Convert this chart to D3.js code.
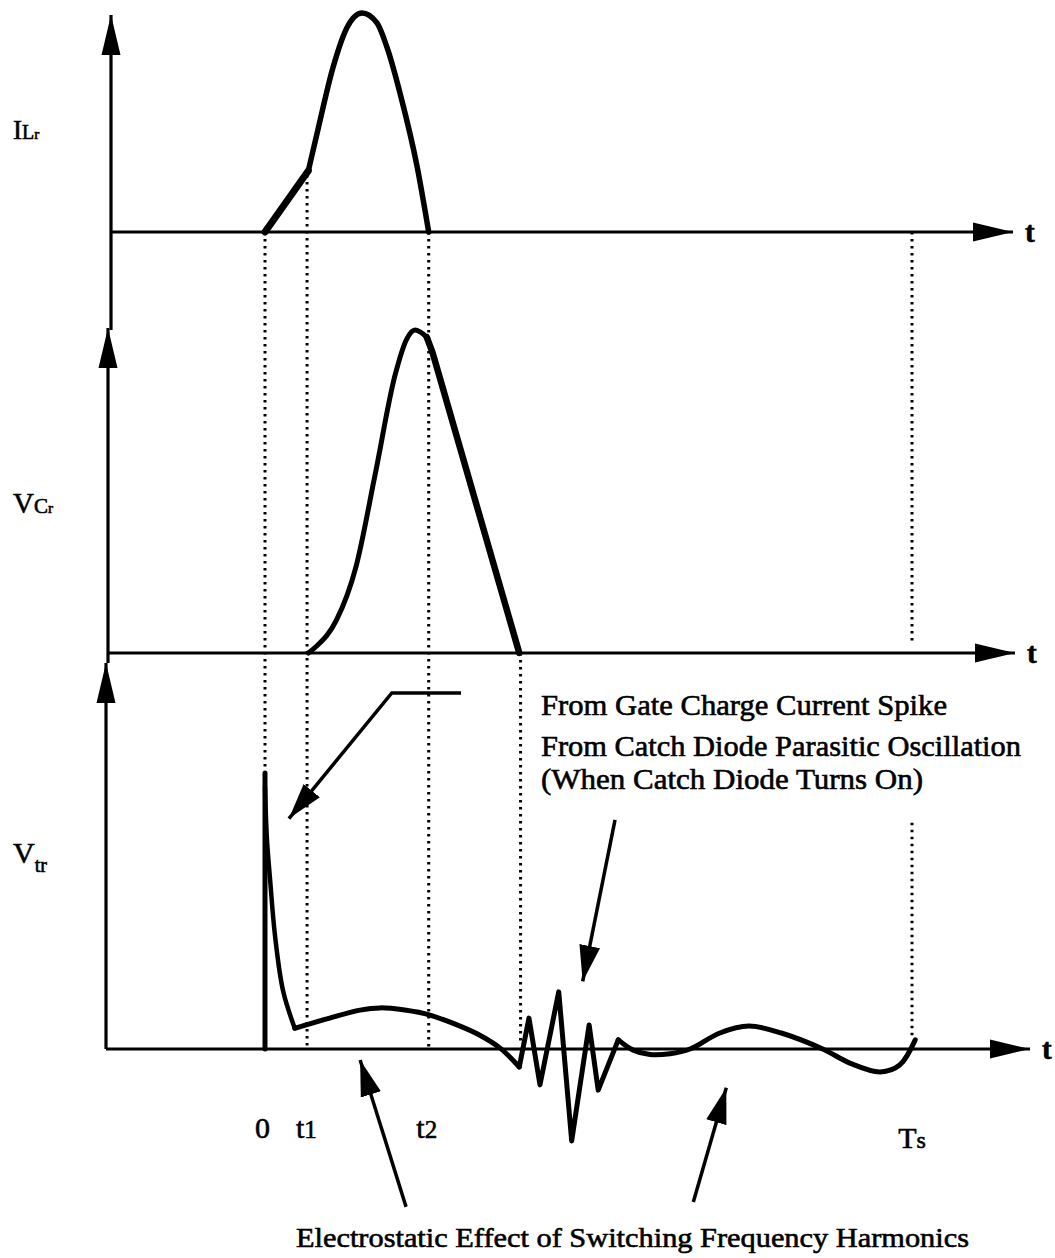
<!DOCTYPE html>
<html>
  <head>
    <meta charset="utf-8">
    <script src="https://d3js.org/d3.v7.min.js"></script>
    <style>
      body { margin: 0; background: #fff; }
      svg { font-family: "Liberation Serif", "Times New Roman", serif; }
      .wave { fill: none; stroke: #000; stroke-linejoin: round; stroke-linecap: round; }
      .axis-line { stroke: #000; stroke-width: 3.2; }
      .guide { stroke: #000; stroke-width: 3; stroke-dasharray: 2.5,4.5; }
      .note-arrow { fill: none; stroke: #000; stroke-width: 3.5; }
      .lbl { fill: #000; stroke: #000; stroke-width: 0.6; }
    </style>
  </head>
  <body>
    <div id="chart"></div>
    <script>
      // time in % of the switching period Ts, amplitude normalised per panel
      var t1 = 6.7, t2 = 25, tOff = 39.3, Ts = 100;

      // I_Lr : linear ramp 0..t1 then resonant arc back to zero at t2
      var ilRamp = [[0, 0], [t1, 0.28]];
      var ilArc = [[t1, 0.28], [8.2, 0.47], [10.5, 0.75], [12.7, 0.935], [15.0, 1.0],
                   [17.3, 0.955], [19.0, 0.83], [20.9, 0.63], [23.5, 0.3], [25.3, 0]];

      // V_Cr : resonant rise from t1, linear discharge to tOff
      var vcRise = [[t1, 0], [7.9, 0.02], [11.0, 0.1], [14.1, 0.27], [17.0, 0.55],
                    [20.1, 0.86], [21.9, 0.972], [23.2, 1.0], [25.0, 0.978]];
      var vcFall = [[25.0, 0.978], [25.9, 0.93], [tOff, 0]];

      // V_tr : spike, decay, slow bump, ringing, harmonics
      var vtSpike = [[0, 0], [0, 1]];
      var vtDecay = [[0, 0.95], [0.3, 0.76], [0.8, 0.61], [1.55, 0.41], [2.8, 0.21], [4.6, 0.075]];
      var vtBump = [[4.6, 0.075], [10.0, 0.112], [14.7, 0.141], [17.8, 0.149], [21.6, 0.141],
                    [25.5, 0.123], [29.4, 0.09], [33.2, 0.05], [36.3, 0.004], [39.3, -0.065]];
      var vtRing = [[39.3, -0.065], [40.8, 0.112], [42.5, -0.13], [45.4, 0.207], [47.4, -0.333],
                    [50.1, 0.087], [51.5, -0.149], [54.6, 0.033]];
      var vtTail = [[54.6, 0.033], [56.9, -0.004], [59.5, -0.02], [62.6, -0.017], [65.7, 0],
                    [70.3, 0.058], [74.8, 0.083], [79.8, 0.058], [86.2, 0], [90.4, -0.051],
                    [95.1, -0.083], [98.1, -0.058], [100.5, 0.033]];

      var tickTimes = [-0.4, 6.4, t2, Ts];
      var tickNames = ["0", "t1", "t2", "Ts"];

      // dotted projection lines: time, [panel, value] -> [panel, value]
      var guides = [
        {t: 0,    from: [0, 0],    to: [2, 1.02]},
        {t: t1 - 0.2, from: [0, 0.26], to: [2, 0]},
        {t: t2 + 0.3, from: [0, 0],    to: [2, 0]},
        {t: tOff + 0.2, from: [1, 0], to: [2, 0.03]},
        {t: Ts,   from: [0, 0],    to: [1, 0.03]},
        {t: Ts,   from: [2, 0.82], to: [2, 0.035]}
      ];

      var noteLines = ["From Gate Charge Current Spike",
                       "From Catch Diode Parasitic Oscillation",
                       "(When Catch Diode Turns On)"];
      var bottomNote = "Electrostatic Effect of Switching Frequency Harmonics";

      // annotation arrows in V_tr panel units
      var gateArrow = [[30.3, 1.29], [19.6, 1.29], [3.7, 0.835]];
      var diodeArrow = [[54.1, 0.83], [49.1, 0.245]];
      var esArrows = [[[21.8, -0.572], [14.7, -0.04]], [[66.2, -0.554], [71.3, -0.14]]];

      var width = 1055, height = 1258;

      var x = d3.scaleLinear().domain([0, 100]).range([265, 912]);

      var panels = [
        {y: d3.scaleLinear().domain([0, 1]).range([232, 13]), ax: 111, top: 15, bottom: 330, tip: 1013},
        {y: d3.scaleLinear().domain([0, 1]).range([653, 330]), ax: 108, top: 328, bottom: 663, tip: 1015},
        {y: d3.scaleLinear().domain([0, 1]).range([1049, 773]), ax: 106, top: 663, bottom: 1049, tip: 1030}
      ];

      var svg = d3.select("#chart").append("svg")
        .attr("width", width)
        .attr("height", height);

      svg.append("rect").attr("width", width).attr("height", height).attr("fill", "#fff");

      var defs = svg.append("defs");
      defs.append("marker")
        .attr("id", "axhead")
        .attr("markerUnits", "userSpaceOnUse")
        .attr("viewBox", "0 -10 40 20")
        .attr("refX", 40).attr("refY", 0)
        .attr("markerWidth", 40).attr("markerHeight", 20)
        .attr("orient", "auto")
        .append("path").attr("d", "M0,-9.5L40,0L0,9.5Z").attr("fill", "#000");
      defs.append("marker")
        .attr("id", "notehead")
        .attr("markerUnits", "userSpaceOnUse")
        .attr("viewBox", "0 -11 36 22")
        .attr("refX", 36).attr("refY", 0)
        .attr("markerWidth", 36).attr("markerHeight", 22)
        .attr("orient", "auto")
        .append("path").attr("d", "M0,-10.5L36,0L0,10.5Z").attr("fill", "#000");

      /* guides */
      svg.append("g").selectAll("line")
        .data(guides).enter()
        .append("line")
        .attr("class", "guide")
        .attr("x1", d => x(d.t)).attr("x2", d => x(d.t))
        .attr("y1", d => panels[d.from[0]].y(d.from[1]))
        .attr("y2", d => panels[d.to[0]].y(d.to[1]));

      /* axes */
      var axes = svg.append("g");
      panels.forEach(function(p) {
        axes.append("line").attr("class", "axis-line")
          .attr("x1", p.ax).attr("x2", p.ax)
          .attr("y1", p.bottom).attr("y2", p.top)
          .attr("marker-end", "url(#axhead)");
        axes.append("line").attr("class", "axis-line")
          .attr("x1", p.ax).attr("x2", p.tip)
          .attr("y1", p.y(0)).attr("y2", p.y(0))
          .attr("marker-end", "url(#axhead)");
        axes.append("text").attr("class", "lbl")
          .attr("x", p.tip + 12).attr("y", p.y(0) + 10)
          .attr("font-size", 29).attr("font-weight", "bold")
          .text("t");
      });

      /* waveforms */
      function draw(panel, pts, curve, sw) {
        var line = d3.line()
          .x(d => x(d[0]))
          .y(d => panels[panel].y(d[1]))
          .curve(curve);
        svg.append("path").attr("class", "wave")
          .attr("d", line(pts))
          .attr("stroke-width", sw);
      }
      draw(0, ilRamp, d3.curveLinear, 7);
      draw(0, ilArc, d3.curveMonotoneX, 5.5);
      draw(1, vcRise, d3.curveMonotoneX, 5);
      draw(1, vcFall, d3.curveLinear, 6.5);
      draw(2, vtSpike, d3.curveLinear, 5);
      draw(2, vtDecay, d3.curveCatmullRom, 4.5);
      draw(2, vtBump, d3.curveCatmullRom, 5);
      draw(2, vtRing, d3.curveLinear, 5);
      draw(2, vtTail, d3.curveCatmullRom, 5);

      /* panel labels */
      function label(yPos, parts) {
        var t = svg.append("text").attr("class", "lbl").attr("x", 13).attr("y", yPos);
        parts.forEach(function(p) {
          t.append("tspan").attr("font-size", p[1]).attr("dy", p[2] || 0).text(p[0]);
        });
      }
      label(139, [["I", 27], ["L", 20], ["r", 15]]);
      label(513, [["V", 29], ["C", 21], ["r", 15]]);
      label(863, [["V", 30], ["tr", 20, 9]]);

      /* time ticks */
      svg.append("g").selectAll("text")
        .data(tickNames).enter()
        .append("text").attr("class", "lbl")
        .attr("x", (d, i) => x(tickTimes[i]))
        .attr("y", (d, i) => i == 3 ? 1148 : 1138)
        .attr("text-anchor", "middle")
        .attr("font-size", 30)
        .each(function(d) {
          d3.select(this).append("tspan").text(d[0]);
          if (d.length > 1) d3.select(this).append("tspan")
            .attr("font-size", d == "Ts" ? 24 : 25).text(d[1]);
        });

      /* annotation arrows */
      var vt = panels[2].y;
      var arrowLine = d3.line().x(d => x(d[0])).y(d => vt(d[1]));
      svg.append("path").attr("class", "note-arrow")
        .attr("d", arrowLine(gateArrow)).attr("marker-end", "url(#notehead)");
      svg.append("path").attr("class", "note-arrow")
        .attr("d", arrowLine(diodeArrow)).attr("marker-end", "url(#notehead)");
      esArrows.forEach(function(a) {
        svg.append("path").attr("class", "note-arrow")
          .attr("d", arrowLine(a)).attr("marker-end", "url(#notehead)");
      });

      /* annotation text */
      var noteY = [715, 756, 789];
      var noteW = [406, 480, 382];
      svg.append("g").selectAll("text")
        .data(noteLines).enter()
        .append("text").attr("class", "lbl")
        .attr("x", 541).attr("y", (d, i) => noteY[i])
        .attr("font-size", 29)
        .attr("textLength", (d, i) => noteW[i])
        .attr("lengthAdjust", "spacingAndGlyphs")
        .text(d => d);

      svg.append("text").attr("class", "lbl")
        .attr("x", 296).attr("y", 1247)
        .attr("font-size", 28)
        .attr("textLength", 673)
        .attr("lengthAdjust", "spacingAndGlyphs")
        .text(bottomNote);
    </script>
  </body>
</html>
